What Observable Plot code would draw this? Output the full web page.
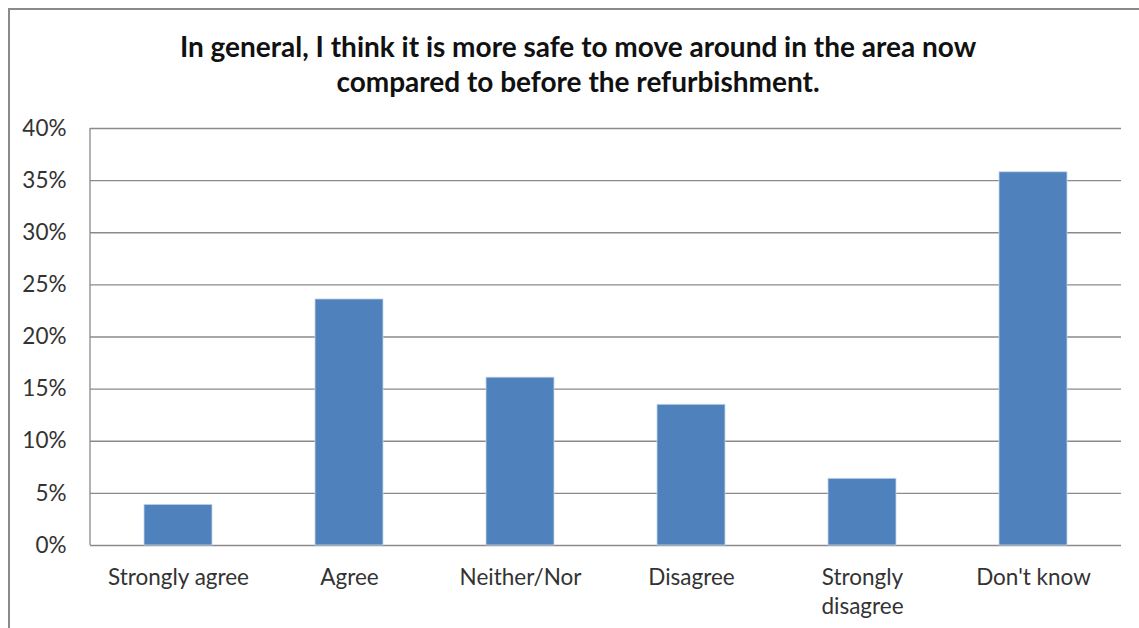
<!DOCTYPE html>
<html>
<head>
<meta charset="utf-8">
<script src="https://cdn.jsdelivr.net/npm/d3@7"></script>
<script src="https://cdn.jsdelivr.net/npm/@observablehq/plot@0.6"></script>
<style>
  html, body { margin: 0; padding: 0; background: #fff; }
  body { width: 1139px; height: 628px; overflow: hidden; position: relative; font-family: Lato, "Open Sans", sans-serif; }
  #frame { position: absolute; left: 8px; top: 8px; width: 1200px; height: 640px; border: 2px solid #8a8a8a; box-sizing: border-box; }
  #title { position: absolute; left: 0; top: 29px; width: 1156px; text-align: center; font-weight: bold; font-size: 28px; line-height: 35px; color: #111; }
  #chart { position: absolute; left: 0; top: 100px; }
</style>
</head>
<body>
<div id="frame"></div>
<div id="title">In general, I think it is more safe to move around in the area now<br>compared to before the refurbishment.</div>
<div id="chart"></div>
<script>
const categories = ["Strongly agree", "Agree", "Neither/Nor", "Disagree", "Strongly disagree", "Don't know"];
const categoryLabels = ["Strongly agree", "Agree", "Neither/Nor", "Disagree", "Strongly\ndisagree", "Don't know"];
const values = [0.039, 0.236, 0.161, 0.135, 0.064, 0.358];
const yTicks = [0, 0.05, 0.10, 0.15, 0.20, 0.25, 0.30, 0.35, 0.40];

const data = categories.map((c, i) => ({category: c, value: values[i], label: categoryLabels[i]}));

const leftLine = (index, scales, values, dims) => {
  const g = d3.create("svg:line")
    .attr("x1", dims.marginLeft).attr("x2", dims.marginLeft)
    .attr("y1", scales.y(yTicks[yTicks.length - 1])).attr("y2", scales.y(0))
    .attr("stroke", "#8a8a8a").attr("stroke-width", 1.3);
  return g.node();
};

const chart = Plot.plot({
  width: 1139,
  height: 528,
  marginLeft: 90,
  marginRight: 18,
  marginTop: 28,
  marginBottom: 83,
  style: { fontFamily: "Lato, 'Open Sans', sans-serif", fontSize: "22.5px", color: "#333", background: "transparent" },
  x: { domain: categories, paddingInner: 0.6, paddingOuter: 0.3, label: null, axis: null },
  y: { domain: [0, 0.4], ticks: yTicks, tickFormat: d3.format(".0%"), label: null, tickSize: 0, tickPadding: 24 },
  marks: [
    Plot.ruleY(yTicks, { stroke: "#8a8a8a", strokeWidth: 1.3 }),
    Plot.barY(data, { x: "category", y: "value", fill: "#4F81BD", stroke: "#c8d6ea", strokeWidth: 0.8 }),
    Plot.text(data, { x: "category", text: "label", frameAnchor: "bottom", lineAnchor: "top", dy: 20, lineHeight: 1.25, fill: "#333" }),
    leftLine
  ]
});
document.getElementById("chart").appendChild(chart);
</script>
</body>
</html>
